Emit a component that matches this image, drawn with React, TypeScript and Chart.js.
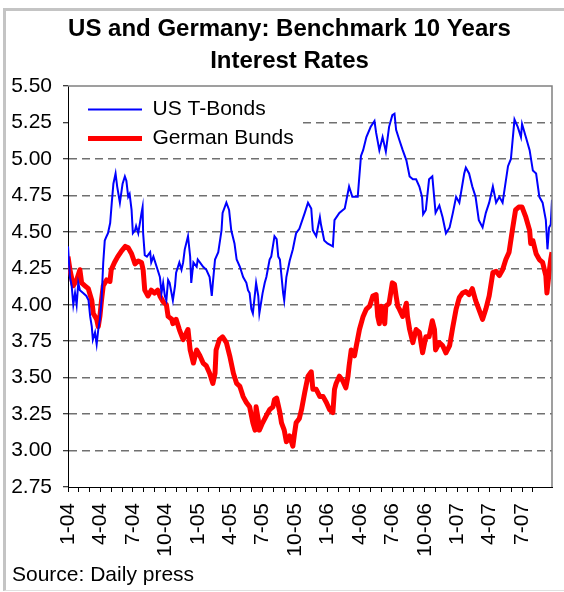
import { useEffect, useRef } from 'react';
import { Chart, registerables } from 'chart.js';

Chart.register(...registerables);

const TITLE = ['US and Germany: Benchmark 10 Years', 'Interest Rates'];
const SOURCE = 'Source: Daily press';
const SERIES_NAMES = ['US T-Bonds', 'German Bunds'];
const QUARTER_LABELS = ['1-04', '4-04', '7-04', '10-04', '1-05', '4-05', '7-05', '10-05', '1-06', '4-06', '7-06', '10-06', '1-07', '4-07', '7-07'];
const Y_MIN = 2.75;
const Y_MAX = 5.5;
const Y_STEP = 0.25;
const X_MAX = 44.77; // months since Jan 2004

// US T-Bonds: time (months since 1 Jan 2004) and yield
const usMonths = [
  0.0, 0.18, 0.34, 0.49, 0.65, 0.8, 0.95, 1.1, 1.4, 1.7, 1.9, 2.05, 2.2, 2.3, 2.5, 2.65, 2.8, 2.95, 3.1, 3.26,
  3.4, 3.57, 3.7, 3.9, 4.05, 4.2, 4.4, 4.55, 4.8, 5.05, 5.26, 5.4, 5.57, 5.7, 5.88, 6.0, 6.2, 6.3, 6.5, 6.65,
  6.8, 6.9, 6.95, 7.1, 7.3, 7.6, 7.7, 7.9, 8.2, 8.5, 8.65, 8.8, 8.96, 9.1, 9.26, 9.4, 9.7, 9.9, 10.0, 10.3,
  10.5, 10.65, 10.8, 11.1, 11.3, 11.4, 11.6, 11.9, 12.0, 12.2, 12.5, 12.8, 13.1, 13.3, 13.4, 13.6, 13.9, 14.2, 14.3, 14.65,
  14.9, 15.1, 15.4, 15.6, 15.9, 16.2, 16.5, 16.65, 16.8, 16.96, 17.1, 17.4, 17.6, 17.7, 18.0, 18.2, 18.35, 18.65, 18.8, 19.1,
  19.3, 19.45, 19.6, 19.9, 20.0, 20.2, 20.5, 20.8, 20.96, 21.1, 21.4, 21.9, 22.2, 22.5, 22.65, 22.96, 23.3, 23.4, 23.7, 24.0,
  24.5, 24.65, 25.1, 25.6, 26.0, 26.3, 26.8, 27.1, 27.3, 27.6, 28.0, 28.35, 28.5, 28.8, 29.1, 29.4, 29.7, 30.0, 30.2, 30.35,
  30.65, 30.96, 31.3, 31.6, 31.9, 32.2, 32.5, 32.75, 32.85, 33.1, 33.4, 33.7, 34.0, 34.35, 34.65, 34.96, 35.3, 35.6, 35.9, 36.2,
  36.65, 36.8, 37.1, 37.4, 37.7, 38.0, 38.35, 38.65, 38.96, 39.3, 39.6, 39.9, 40.2, 40.7, 40.97, 41.3, 41.6, 41.9, 42.0, 42.35,
  42.7, 43.0, 43.3, 43.6, 43.9, 44.2, 44.35, 44.5, 44.65, 44.77,
];
const usRates = [
  4.4, 4.19, 4.13, 4.0, 4.08, 4.0, 4.15, 4.1, 4.08, 4.06, 4.03, 3.92, 3.85, 3.76, 3.81, 3.73, 3.83, 3.9, 4.03, 4.29,
  4.44, 4.47, 4.49, 4.56, 4.7, 4.83, 4.9, 4.81, 4.7, 4.83, 4.88, 4.85, 4.74, 4.76, 4.65, 4.49, 4.51, 4.54, 4.49, 4.56,
  4.63, 4.67, 4.49, 4.34, 4.33, 4.36, 4.29, 4.33, 4.26, 4.19, 4.08, 4.15, 4.06, 4.03, 4.17, 4.15, 4.03, 4.13, 4.22, 4.29,
  4.24, 4.29, 4.38, 4.47, 4.33, 4.15, 4.29, 4.26, 4.31, 4.29, 4.26, 4.24, 4.19, 4.06, 4.15, 4.31, 4.36, 4.51, 4.63, 4.7,
  4.65, 4.51, 4.42, 4.31, 4.26, 4.19, 4.15, 4.1, 4.08, 3.97, 3.94, 4.15, 4.06, 3.94, 4.08, 4.15, 4.19, 4.31, 4.33, 4.47,
  4.45, 4.33, 4.31, 4.08, 4.03, 4.19, 4.3, 4.38, 4.44, 4.49, 4.52, 4.63, 4.7, 4.66, 4.51, 4.47, 4.6, 4.55, 4.44, 4.42,
  4.4, 4.58, 4.63, 4.66, 4.81, 4.74, 4.74, 5.02, 5.06, 5.15, 5.22, 5.26, 5.18, 5.06, 5.15, 5.05, 5.22, 5.3, 5.31, 5.2,
  5.13, 5.06, 4.99, 4.88, 4.86, 4.86, 4.81, 4.74, 4.62, 4.65, 4.86, 4.88, 4.63, 4.68, 4.6, 4.49, 4.53, 4.63, 4.74, 4.7,
  4.9, 4.94, 4.9, 4.81, 4.74, 4.58, 4.53, 4.63, 4.7, 4.81, 4.7, 4.74, 4.7, 4.95, 5.0, 5.27, 5.22, 5.15, 5.24, 5.15,
  5.06, 4.92, 4.9, 4.74, 4.7, 4.58, 4.38, 4.53, 4.55, 4.72,
];

// German Bunds: time (months since 1 Jan 2004) and yield
const deMonths = [
  0.0, 0.18, 0.49, 0.8, 1.1, 1.26, 1.57, 1.88, 2.2, 2.34, 2.65, 2.8, 2.95, 3.1, 3.26, 3.57, 3.88, 4.0, 4.3, 4.6,
  4.96, 5.3, 5.57, 5.88, 6.2, 6.5, 6.8, 6.95, 7.1, 7.4, 7.7, 8.0, 8.3, 8.5, 8.8, 9.1, 9.26, 9.6, 9.7, 10.0,
  10.3, 10.65, 10.96, 11.1, 11.3, 11.6, 11.9, 12.2, 12.5, 12.8, 13.1, 13.4, 13.6, 13.7, 14.0, 14.3, 14.65, 14.96, 15.3, 15.6,
  15.9, 16.2, 16.5, 16.8, 17.1, 17.3, 17.4, 17.6, 17.7, 18.0, 18.35, 18.65, 18.96, 19.1, 19.3, 19.6, 19.75, 20.0, 20.2, 20.5,
  20.8, 20.96, 21.1, 21.4, 21.6, 21.9, 22.2, 22.5, 22.65, 22.96, 23.3, 23.6, 23.9, 24.2, 24.5, 24.65, 24.8, 25.1, 25.4, 25.7,
  25.9, 26.0, 26.2, 26.5, 26.65, 26.96, 27.3, 27.6, 27.9, 28.2, 28.5, 28.65, 28.8, 28.96, 29.3, 29.4, 29.7, 30.0, 30.2, 30.35,
  30.5, 30.65, 30.96, 31.3, 31.4, 31.6, 31.9, 32.2, 32.5, 32.8, 33.1, 33.4, 33.7, 33.9, 34.0, 34.35, 34.65, 34.96, 35.3, 35.6,
  35.9, 36.2, 36.5, 36.8, 37.1, 37.4, 37.7, 38.0, 38.35, 38.65, 38.96, 39.3, 39.6, 39.9, 40.2, 40.5, 40.8, 41.1, 41.4, 41.7,
  42.0, 42.35, 42.7, 42.8, 43.0, 43.3, 43.6, 43.9, 44.2, 44.3, 44.5, 44.65, 44.77,
];
const deRates = [
  4.33, 4.24, 4.13, 4.17, 4.24, 4.15, 4.13, 4.11, 4.03, 3.94, 3.9, 3.85, 3.92, 4.03, 4.13, 4.17, 4.16, 4.24, 4.29, 4.33,
  4.37, 4.4, 4.39, 4.35, 4.28, 4.3, 4.29, 4.24, 4.1, 4.06, 4.1, 4.08, 4.1, 4.06, 4.02, 4.0, 3.92, 3.9, 3.87, 3.9,
  3.83, 3.76, 3.81, 3.83, 3.69, 3.6, 3.69, 3.65, 3.6, 3.58, 3.53, 3.46, 3.53, 3.69, 3.76, 3.78, 3.74, 3.65, 3.53, 3.46,
  3.44, 3.37, 3.33, 3.3, 3.19, 3.14, 3.3, 3.21, 3.14, 3.19, 3.24, 3.28, 3.3, 3.35, 3.36, 3.26, 3.19, 3.14, 3.06, 3.1,
  3.03, 3.12, 3.19, 3.22, 3.28, 3.4, 3.51, 3.54, 3.42, 3.42, 3.37, 3.37, 3.33, 3.28, 3.26, 3.42, 3.46, 3.51, 3.48, 3.43,
  3.51, 3.58, 3.69, 3.65, 3.71, 3.83, 3.92, 3.97, 3.99, 4.06, 4.07, 3.92, 3.87, 3.99, 3.87, 3.99, 4.01, 4.15, 4.14, 4.06,
  3.99, 3.97, 3.92, 4.01, 3.92, 3.83, 3.74, 3.83, 3.81, 3.67, 3.78, 3.78, 3.89, 3.83, 3.69, 3.74, 3.72, 3.67, 3.72, 3.85,
  3.97, 4.05, 4.08, 4.09, 4.07, 4.11, 4.03, 3.97, 3.9, 3.97, 4.06, 4.22, 4.23, 4.2, 4.24, 4.31, 4.36, 4.51, 4.65, 4.67,
  4.67, 4.6, 4.51, 4.42, 4.44, 4.35, 4.31, 4.29, 4.2, 4.08, 4.22, 4.31, 4.36,
];

const FONT = "'Liberation Sans', Arial, sans-serif";

const toPoints = (xs: number[], ys: number[]) => xs.map((x, i) => ({ x, y: ys[i] }));

const plotFrame = {
  id: 'plotFrame',
  afterDatasetsDraw(chart: any) {
    const { ctx, chartArea } = chart;
    ctx.save();
    ctx.strokeStyle = '#808080';
    ctx.lineWidth = 1.5;
    ctx.beginPath();
    ctx.moveTo(chartArea.left, chartArea.top);
    ctx.lineTo(chartArea.right, chartArea.top);
    ctx.lineTo(chartArea.right, chartArea.bottom);
    ctx.stroke();
    ctx.restore();
  },
};

const legendPlacement = {
  id: 'legendPlacement',
  afterLayout(chart: any) {
    const legend = chart.legend;
    if (legend) {
      const w = legend.width;
      const h = legend.height;
      legend.left = chart.chartArea.left + 12;
      legend.top = chart.chartArea.top + 5;
      legend.right = legend.left + w;
      legend.bottom = legend.top + h;
    }
  },
  afterDraw(chart: any) {
    const { ctx, chartArea, legend } = chart;
    if (!legend) return;
    ctx.save();
    ctx.fillStyle = '#ffffff';
    ctx.fillRect(chartArea.left + 1, chartArea.top + 1, 229, 68);
    ctx.restore();
    legend.draw();
  },
};

export default function App() {
  const canvasRef = useRef<HTMLCanvasElement | null>(null);

  useEffect(() => {
    document.body.style.margin = '0';
    const canvas = canvasRef.current;
    if (!canvas) return;
    const chart = new Chart(canvas, {
      type: 'line',
      data: {
        datasets: [
          {
            label: SERIES_NAMES[0],
            data: toPoints(usMonths, usRates),
            borderColor: '#0000ff',
            backgroundColor: '#0000ff',
            borderWidth: 2,
            pointRadius: 0,
            tension: 0,
          },
          {
            label: SERIES_NAMES[1],
            data: toPoints(deMonths, deRates),
            borderColor: '#ff0000',
            backgroundColor: '#ff0000',
            borderWidth: 5,
            pointRadius: 0,
            tension: 0,
            borderJoinStyle: 'round',
          },
        ],
      },
      options: {
        responsive: false,
        animation: false,
        events: [],
        layout: { padding: { left: 12, right: -3, top: 0, bottom: 0 } },
        plugins: {
          title: {
            display: true,
            text: TITLE,
            color: '#000',
            font: { family: FONT, size: 24, weight: 'bold', lineHeight: 1.35 },
            padding: { top: 13, bottom: 8.2 },
          },
          subtitle: {
            display: true,
            text: SOURCE,
            position: 'bottom',
            align: 'start',
            color: '#000',
            font: { family: FONT, size: 21, weight: 'normal', lineHeight: 1.2 },
            padding: { top: 0, bottom: 4.4 },
          },
          legend: {
            position: 'chartArea',
            align: 'start',
            labels: {
              color: '#000',
              font: { family: FONT, size: 21 },
              padding: 8,
              usePointStyle: true,
              pointStyle: 'line',
              pointStyleWidth: 54,
            },
          },
          tooltip: { enabled: false },
        },
        scales: {
          x: {
            type: 'linear',
            min: 0,
            max: X_MAX,
            afterBuildTicks: (scale: any) => {
              scale.ticks = scale.ticks.filter((t: any) => Number.isInteger(t.value));
            },
            afterFit: (scale: any) => {
              scale.height = 75.4;
              scale.paddingRight = 12;
            },
            ticks: {
              stepSize: 1,
              autoSkip: false,
              maxRotation: 90,
              minRotation: 90,
              padding: 11,
              color: '#000',
              font: { family: FONT, size: 21 },
              callback: (value: any) => {
                const v = Number(value);
                return Number.isInteger(v) && v % 3 === 0 ? QUARTER_LABELS[v / 3] ?? '' : '';
              },
            },
            grid: {
              drawOnChartArea: false,
              drawTicks: true,
              tickLength: 5,
              tickColor: '#000',
            },
            border: { display: true, color: '#000', width: 1 },
          },
          y: {
            type: 'linear',
            min: Y_MIN,
            max: Y_MAX,
            afterFit: (scale: any) => {
              scale.width = 56;
            },
            ticks: {
              stepSize: Y_STEP,
              padding: 11,
              color: '#000',
              font: { family: FONT, size: 21 },
              callback: (value: any) => Number(value).toFixed(2),
            },
            grid: {
              color: (c: any) => {
                const v = c.tick ? c.tick.value : 0;
                return Math.abs(v - Y_MAX) < 1e-6 || Math.abs(v - Y_MIN) < 1e-6 ? 'rgba(0,0,0,0)' : '#707070';
              },
              lineWidth: 1.5,
              drawTicks: true,
              tickLength: 5,
              tickColor: '#000',
              tickWidth: 1,
              tickBorderDash: [],
            },
            border: { display: true, color: '#000', width: 1, dash: [8, 5] },
          },
        },
      },
      plugins: [plotFrame, legendPlacement],
    } as any);
    return () => chart.destroy();
  }, []);

  return (
    <div style={{ position: 'relative', width: 564, height: 592 }}>
      <div
        style={{
          position: 'absolute',
          left: 3,
          top: 8,
          right: 0,
          bottom: 1,
          borderLeft: '3px solid #c4c4c4',
          borderTop: '3px solid #c4c4c4',
          borderBottom: '1px solid #e0e0e0',
          pointerEvents: 'none',
        }}
      />
      <canvas ref={canvasRef} width={564} height={592} style={{ position: 'absolute', left: 0, top: 0 }} />
    </div>
  );
}
